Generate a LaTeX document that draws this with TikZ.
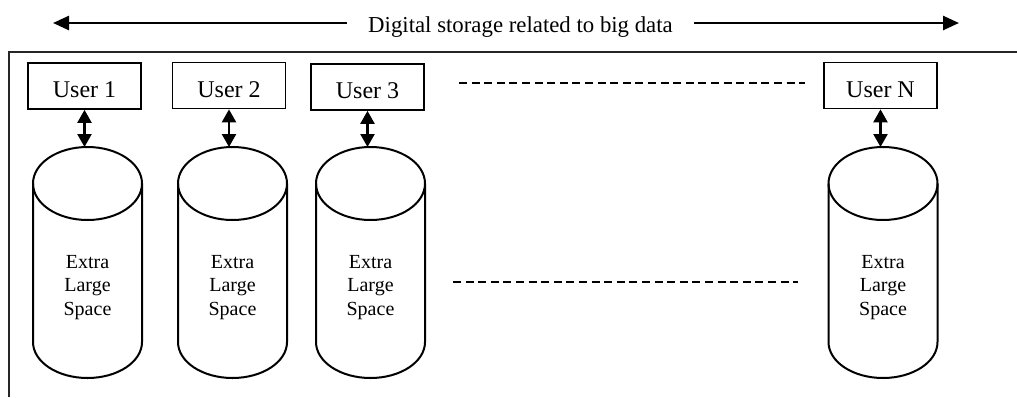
\documentclass[tikz,border=0pt]{standalone}
\usepackage{fontspec}
\setmainfont{Liberation Serif}
\usetikzlibrary{arrows.meta}
\begin{document}
\begin{tikzpicture}[x=1pt,y=-1pt,
  frameline/.style={line width=2pt,draw=black!85},
  userbox/.style={draw,line width=1.7pt,minimum width=113pt,minimum height=46pt,
    inner sep=0pt,font=\fontsize{24}{28}\selectfont,text height=23.5pt,text depth=0pt},
  cylline/.style={line width=2pt},
  captext/.style={align=center,inner sep=0pt,font=\fontsize{20}{23.5}\selectfont},
  titletext/.style={inner ysep=0pt,inner xsep=21.5pt,font=\fontsize{22.8}{27}\selectfont},
  duo/.style={line width=2.3pt,
    {Triangle[width=14pt,length=13pt]}-{Triangle[width=14pt,length=13pt]}},
  bigarrow/.style={line width=2.5pt,-{Triangle[width=14pt,length=16pt]}},
  dotrow/.style={line width=1.7pt,dash pattern=on 8pt off 4.6pt}]
\useasboundingbox (0,0) rectangle (1017,397);

% heading with arrows spanning the width
\node[titletext,anchor=base] (title) at (520.5,32.7) {Digital storage related to big data};
\coordinate (tl) at (53,23);
\coordinate (tr) at (959,23);
\draw[bigarrow] (title.west |- tl) -- (tl);
\draw[bigarrow] (title.east |- tr) -- (tr);

% enclosing frame (open towards right and bottom)
\draw[frameline] (1017,52) -- (8.5,52) -- (8.5,397);

% user boxes
\node[userbox] (u1) at (84.5,86) {User 1};
\node[userbox] (u2) at (229,85.5) {User 2};
\node[userbox] (u3) at (367.5,87) {User 3};
\node[userbox] (uN) at (880.5,85.5) {User N};

% storage cylinders: top ellipse centre at y=183.5, bottom arc centre at y=342
\foreach \name/\cx in {c1/87.5, c2/232.5, c3/370.5, cN/883}{
  \coordinate (\name top) at (\cx,147);
  \draw[cylline] (\cx,183.5) ellipse[x radius=54.5pt,y radius=36.5pt];
  \draw[cylline] (\cx-54.5,183.5) -- (\cx-54.5,342)
    arc[start angle=180,end angle=360,x radius=54.5pt,y radius=36pt]
    -- (\cx+54.5,183.5);
  \node[captext] (\name text) at (\cx,287.3) {Extra\\Large\\Space};
}

% user <-> storage links
\draw[duo] (u1.south) -- (u1.south |- c1top);
\draw[duo] (u2.south) -- (u2.south |- c2top);
\draw[duo] (u3.south) -- (u3.south |- c3top);
\draw[duo] (uN.south) -- (uN.south |- cNtop);

% ellipsis rows between user 3 and user N
\coordinate (d1a) at (459,83);
\coordinate (d1b) at (805,83);
\coordinate (d2a) at (453,282);
\coordinate (d2b) at (798,282);
\draw[dotrow] (d1a) -- (d1b);
\draw[dotrow] (d2a) -- (d2b);
\end{tikzpicture}
\end{document}
